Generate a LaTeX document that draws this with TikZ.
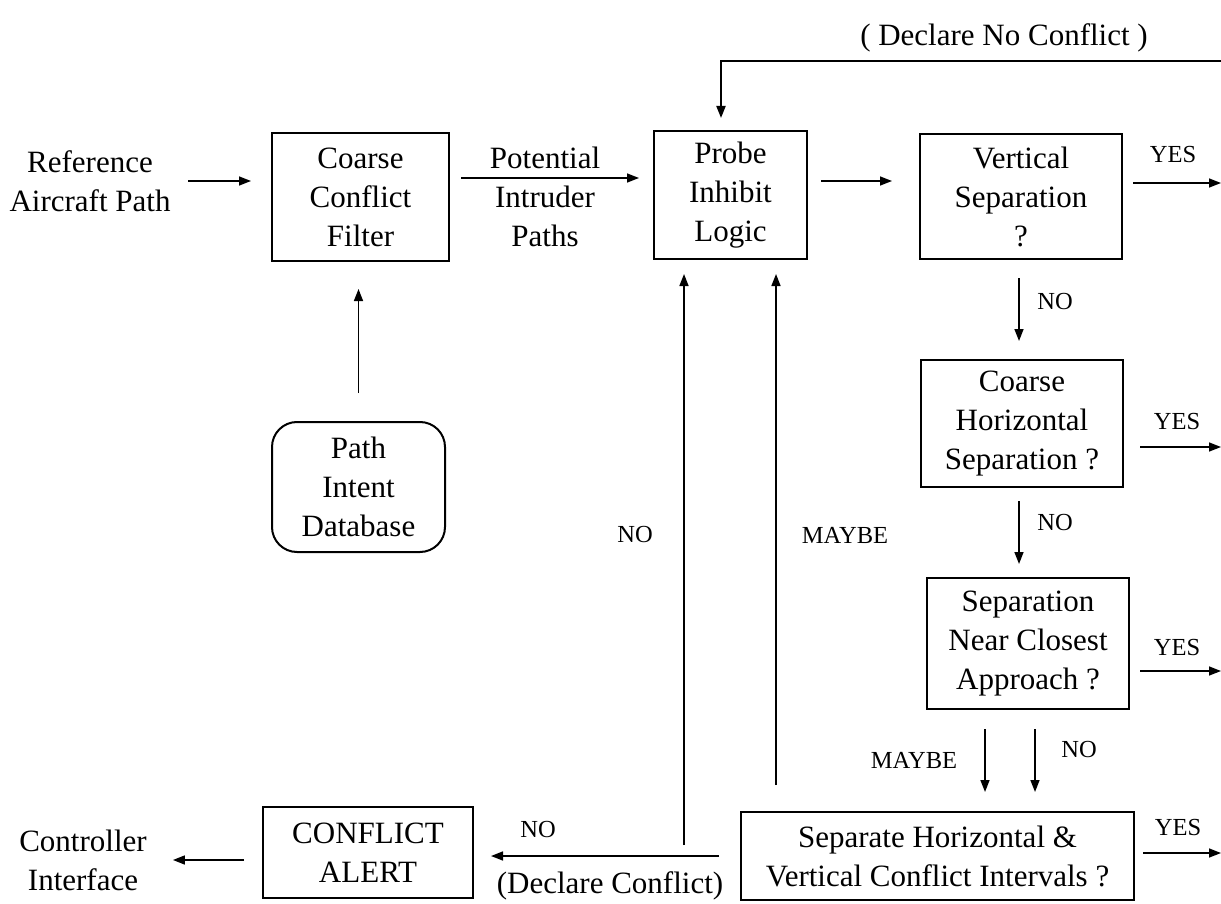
\documentclass[tikz,border=0pt]{standalone}
\usepackage{fontspec}
\setmainfont{Liberation Serif}
\usetikzlibrary{arrows.meta}
\newcommand\mainfs{\fontsize{31}{39}\selectfont}
\newcommand\smallfs{\fontsize{24.5}{28}\selectfont}
\begin{document}
\begin{tikzpicture}[x=1pt,y=-1pt,
  box/.style={draw, line width=2pt, inner sep=0pt, align=center, font=\mainfs},
  lbl/.style={inner sep=0pt, align=center, font=\mainfs},
  tag/.style={inner sep=0pt, font=\smallfs},
  arr/.style={line width=1.5pt, -{Triangle[length=12pt,width=9pt]}}]
\useasboundingbox (0,0) rectangle (1221,904);

% process boxes
\node[box, minimum width=177pt, minimum height=128pt] (cf)   at (360.5,197)  {Coarse\\Conflict\\Filter};
\node[box, minimum width=153pt, minimum height=128pt] (pil)  at (730.5,195)  {Probe\\Inhibit\\Logic};
\node[box, minimum width=202pt, minimum height=125pt] (vs)   at (1021,196.5) {Vertical\\Separation\\?};
\node[box, minimum width=202pt, minimum height=127pt] (chs)  at (1022,423.5) {Coarse\\Horizontal\\Separation ?};
\node[box, minimum width=202pt, minimum height=131pt] (snca) at (1028,643.5) {Separation\\Near Closest\\Approach ?};
\node[box, minimum width=393pt, minimum height=88pt]  (shv)  at (937.5,856)  {Separate Horizontal \&\\Vertical Conflict Intervals ?};
\node[box, minimum width=210pt, minimum height=91pt]  (ca)   at (368,852.5)  {CONFLICT\\ALERT};
\node[box, rounded corners=25pt, minimum width=173pt, minimum height=130pt] (pid) at (358.5,487) {Path\\Intent\\Database};

% free texts
\node[lbl] (ref)  at (90,181)   {Reference\\Aircraft Path};
\node[lbl] (pot)  at (545,197)  {Potential\\Intruder\\Paths};
\node[lbl] (ctrl) at (83,860)   {Controller\\Interface};
\node[lbl] (dnc)  at (1004,38)  {( Declare No Conflict )};
\node[lbl] (dc)   at (610,886)  {(Declare Conflict)};

% branch labels
\node[tag] (y1) at (1173,155) {YES};
\node[tag] (y2) at (1177,422) {YES};
\node[tag] (y3) at (1177,648) {YES};
\node[tag] (y4) at (1178,828) {YES};
\node[tag] (n1) at (1055,302) {NO};
\node[tag] (n2) at (1055,523) {NO};
\node[tag] (n3) at (1079,750) {NO};
\node[tag] (m1) at (914,760)  {MAYBE};
\node[tag] (n4) at (635,535)  {NO};
\node[tag] (m2) at (845,535)  {MAYBE};
\node[tag] (n5) at (538,830)  {NO};

% free ends
\coordinate (vsY)   at (1221,183);
\coordinate (chsY)  at (1221,447);
\coordinate (sncaY) at (1221,671);
\coordinate (shvY)  at (1221,853);
\coordinate (fbR)   at (1221,61);
\coordinate (noS)   at (684,845);
\coordinate (mbS)   at (776,785);

% main flow
\draw[arr, shorten <=17.5pt, shorten >=20pt] (ref.east) -- (ref.east -| cf.west);
\draw[arr, shorten <=11pt, shorten >=14pt] ([yshift=19pt]cf.east) -- ([yshift=19pt]cf.east -| pil.west);
\draw[arr, shorten <=13pt, shorten >=27pt] ([yshift=14pt]pil.east) -- ([yshift=14pt]pil.east -| vs.west);
\draw[arr, shorten <=28pt, shorten >=27pt] (pid.north) -- (pid.north |- cf.south);

% decision chain
\draw[arr, shorten <=18pt, shorten >=18pt] ([xshift=-2pt]vs.south) -- ([xshift=-2pt]vs.south |- chs.north);
\draw[arr, shorten <=13pt, shorten >=13pt] ([xshift=-3pt]chs.south) -- ([xshift=-3pt]chs.south |- snca.north);
\draw[arr, shorten <=19pt, shorten >=19pt] ([xshift=-43pt]snca.south) -- ([xshift=-43pt]snca.south |- shv.north);
\draw[arr, shorten <=19pt, shorten >=19pt] ([xshift=7pt]snca.south) -- ([xshift=7pt]snca.south |- shv.north);

% YES exits
\draw[arr, shorten <=10pt] (vs.east |- vsY) -- (vsY);
\draw[arr, shorten <=16pt] (chs.east |- chsY) -- (chsY);
\draw[arr, shorten <=10pt] (snca.east |- sncaY) -- (sncaY);
\draw[arr, shorten <=8pt] (shv.east |- shvY) -- (shvY);

% no-conflict feedback
\draw[arr, line width=1.9pt, shorten >=12pt] (fbR) -| ([xshift=-9.5pt]pil.north);

% returns to probe inhibit logic
\draw[arr, shorten >=14pt] (noS) -- (noS |- pil.south);
\draw[arr, shorten >=14pt] (mbS) -- (mbS |- pil.south);

% conflict path
\draw[arr, shorten <=21pt, shorten >=17pt] (shv.west) -- (shv.west -| ca.east);
\draw[arr, shorten <=18pt, shorten >=26pt] (ctrl.east -| ca.west) -- (ctrl.east);
\end{tikzpicture}
\end{document}
